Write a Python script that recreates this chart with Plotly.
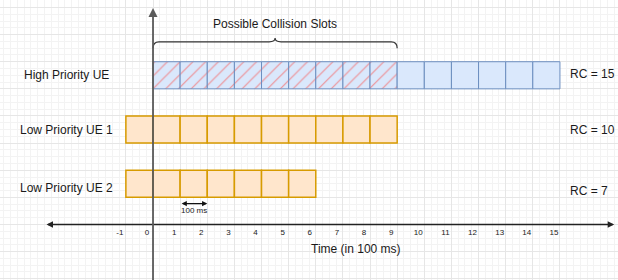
import plotly.graph_objects as go

# ---------------- data ----------------
ue_names = ["High Priority UE", "Low Priority UE 1", "Low Priority UE 2"]
rc_values = [15, 10, 7]          # number of reserved slots (RC)
start_slots = [0, -1, -1]        # first slot index of each UE
collision_slots = 9              # slots 0..9 may collide
time_ticks = list(range(-1, 16))
tick_labels = [str(t) for t in time_ticks]
brace_label = "Possible Collision Slots"
axis_title = "Time (in 100 ms)"
unit_label = "100 ms"

# ---------------- styling / layout ----------------
FONT = "Liberation Sans, Arial, Helvetica, sans-serif"
X_RANGE = [-5.64, 17.14]
Y_RANGE = [-2.046, 8.275]
row_y = [5.5, 3.5, 1.5]
name_dy = [0.0, 0.0, -0.15]
rc_dy = [0.05, 0.0, -0.27]

fig = go.Figure()

blue_fill, blue_line = "#dae8fc", "#6c8ebf"
orange_fill, orange_line = "#ffe6cc", "#d79b00"

for i, (name, rc, s0) in enumerate(zip(ue_names, rc_values, start_slots)):
    bases = [s0 + k for k in range(rc)]
    if i == 0:
        shapes = ["/" if b < collision_slots else "" for b in bases]
        marker = dict(
            color=blue_fill,
            line=dict(color=blue_line, width=1),
            pattern=dict(shape=shapes, fgcolor="#ee9096", bgcolor=blue_fill,
                         size=9, solidity=0.13, fillmode="replace"),
        )
    else:
        marker = dict(color=orange_fill, line=dict(color=orange_line, width=1.5))
    fig.add_trace(go.Bar(
        orientation="h",
        y=[row_y[i]] * rc,
        x=[1] * rc,
        base=bases,
        width=1,
        marker=marker,
        showlegend=False,
        hoverinfo="skip",
    ))
    # UE name
    fig.add_annotation(x=-3.2, y=row_y[i] + name_dy[i], text=name, showarrow=False,
                       xref="x", yref="y", font=dict(family=FONT, size=12, color="#1a1a1a"))
    # RC label
    fig.add_annotation(x=15.3, y=row_y[i] + rc_dy[i], text=f"RC = {rc}", showarrow=False,
                       xanchor="left", xref="x", yref="y",
                       font=dict(family=FONT, size=12, color="#1a1a1a"))

# axes arrows
fig.add_annotation(x=17.0, y=0, ax=-3.98, ay=0, xref="x", yref="y", axref="x", ayref="y",
                   showarrow=True, arrowhead=2, arrowside="end+start", arrowsize=1,
                   arrowwidth=1.3, arrowcolor="#222", text="")
fig.add_annotation(x=0, y=7.98, ax=0, ay=-2.2, xref="x", yref="y", axref="x", ayref="y",
                   showarrow=True, arrowhead=2, arrowsize=1, arrowwidth=1.8,
                   arrowcolor="#5a5a5a", text="")

# curly brace over collision slots
x0, x1 = 0, collision_slots
xm = (x0 + x1) / 2
ylow, yline, ytip, r = 6.5, 6.73, 6.87, 0.22
path = (f"M {x0},{ylow} Q {x0},{yline} {x0 + r},{yline} "
        f"L {xm - r},{yline} Q {xm},{yline} {xm},{ytip} "
        f"Q {xm},{yline} {xm + r},{yline} "
        f"L {x1 - r},{yline} Q {x1},{yline} {x1},{ylow}")
fig.add_shape(type="path", path=path, xref="x", yref="y",
              line=dict(color="#333", width=1.2))
fig.add_annotation(x=xm, y=7.39, text=brace_label, showarrow=False, xref="x", yref="y",
                   font=dict(family=FONT, size=12, color="#1a1a1a"))

# 100 ms marker
fig.add_annotation(x=2, y=0.77, ax=1, ay=0.77, xref="x", yref="y", axref="x", ayref="y",
                   showarrow=True, arrowhead=2, arrowside="end+start", arrowsize=0.8,
                   arrowwidth=1.3, arrowcolor="#111", text="")
fig.add_annotation(x=1.5, y=0.5, text=unit_label, showarrow=False, xref="x", yref="y",
                   font=dict(family=FONT, size=8, color="#1a1a1a"))

# axis title
fig.add_annotation(x=7.48, y=-0.9, text=axis_title, showarrow=False, xref="x", yref="y",
                   font=dict(family=FONT, size=12, color="#1a1a1a"))

pos = (0 - Y_RANGE[0]) / (Y_RANGE[1] - Y_RANGE[0])

fig.update_layout(
    width=618, height=280,
    margin=dict(l=0, r=0, t=0, b=0),
    paper_bgcolor="white", plot_bgcolor="white",
    barmode="overlay",
    xaxis=dict(range=X_RANGE, anchor="free", position=pos,
               tickmode="array", tickvals=time_ticks, ticktext=tick_labels,
               ticks="", showline=False, zeroline=False,
               ticklabelshift=-6, ticklabelstandoff=2,
               tickfont=dict(family=FONT, size=8, color="#222"),
               showgrid=True, gridcolor="#e6e6e6", gridwidth=1,
               minor=dict(dtick=0.25, tick0=0, showgrid=True, gridcolor="#f3f3f3", gridwidth=1),
               fixedrange=True),
    yaxis=dict(range=Y_RANGE, showticklabels=False, ticks="", zeroline=False,
               tickmode="linear", tick0=0, dtick=1,
               showgrid=True, gridcolor="#e6e6e6", gridwidth=1,
               minor=dict(dtick=0.25, tick0=0, showgrid=True, gridcolor="#f3f3f3", gridwidth=1),
               fixedrange=True),
)

fig.write_html("out.html", config={"displayModeBar": False},
               post_script="document.body.style.margin='0';")
